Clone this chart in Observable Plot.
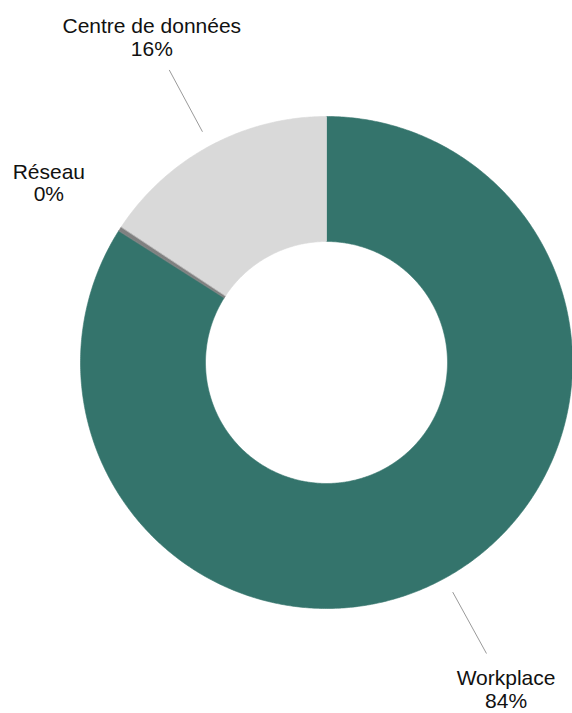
<!DOCTYPE html>
<html><head><meta charset="utf-8">
<script src="https://cdn.jsdelivr.net/npm/d3@7"></script>
<script src="https://cdn.jsdelivr.net/npm/@observablehq/plot@0.6"></script>
<style>html,body{margin:0;padding:0;background:#fff}</style>
</head><body><div id="chart"></div>
<script>
// ---- data ----
const categories = ["Workplace", "Réseau", "Centre de données"];
const values = [84.0, 0.3, 15.7];
const percentLabels = ["84%", "0%", "16%"];

// ---- style / layout ----
const colors = ["#34746c", "#808080", "#d9d9d9"];
const W = 572, H = 713, cx = 326, cy = 362, R = 246, R0 = 121;
const labelDist = {"Workplace": 1.515, "Réseau": 1.345, "Centre de données": 1.5};
const leader = {"Workplace": true, "Réseau": false, "Centre de données": true};

const rows = categories.map((c, i) => ({cat: c, value: values[i], pct: percentLabels[i]}));
const arcs = d3.pie().sort(null).value(d => d.value)(rows);

const pt = (a, rho) => ({x: rho * Math.sin(a), y: rho * Math.cos(a)});

const wedgePts = [];
for (const a of arcs) {
  const n = Math.max(2, Math.ceil((a.endAngle - a.startAngle) / (Math.PI / 360)));
  for (let k = 0; k <= n; k++) {
    const t = a.startAngle + (a.endAngle - a.startAngle) * k / n;
    wedgePts.push({cat: a.data.cat, ...pt(t, R)});
  }
  for (let k = n; k >= 0; k--) {
    const t = a.startAngle + (a.endAngle - a.startAngle) * k / n;
    wedgePts.push({cat: a.data.cat, ...pt(t, R0)});
  }
}

const mids = arcs.map(a => ({cat: a.data.cat, pct: a.data.pct, mid: (a.startAngle + a.endAngle) / 2}));
const links = mids.filter(m => leader[m.cat]).map(m => {
  const p1 = pt(m.mid, R * 1.065), p2 = pt(m.mid, R * 1.35);
  return {x1: p1.x, y1: p1.y, x2: p2.x, y2: p2.y};
});
const labels = mids.map(m => ({...pt(m.mid, R * labelDist[m.cat]), text: `${m.cat}\n${m.pct}`}));

const chart = Plot.plot({
  width: W, height: H,
  margin: 0,
  x: {domain: [-cx, W - cx], axis: null},
  y: {domain: [-(H - cy), cy], axis: null},
  color: {domain: categories, range: colors},
  style: {background: "#fff"},
  marks: [
    Plot.line(wedgePts, {x: "x", y: "y", z: "cat", fill: "cat", stroke: "cat", strokeWidth: 0.6, curve: "linear-closed"}),
    Plot.link(links, {x1: "x1", y1: "y1", x2: "x2", y2: "y2", stroke: "#9a9a9a", strokeWidth: 1}),
    Plot.text(labels, {x: "x", y: "y", text: "text", fontSize: 21, lineHeight: 1.08,
      fontFamily: "'Liberation Sans', Arial, Helvetica, sans-serif", fill: "#111", textAnchor: "middle"})
  ]
});
document.getElementById("chart").appendChild(chart);
</script>
</body></html>
